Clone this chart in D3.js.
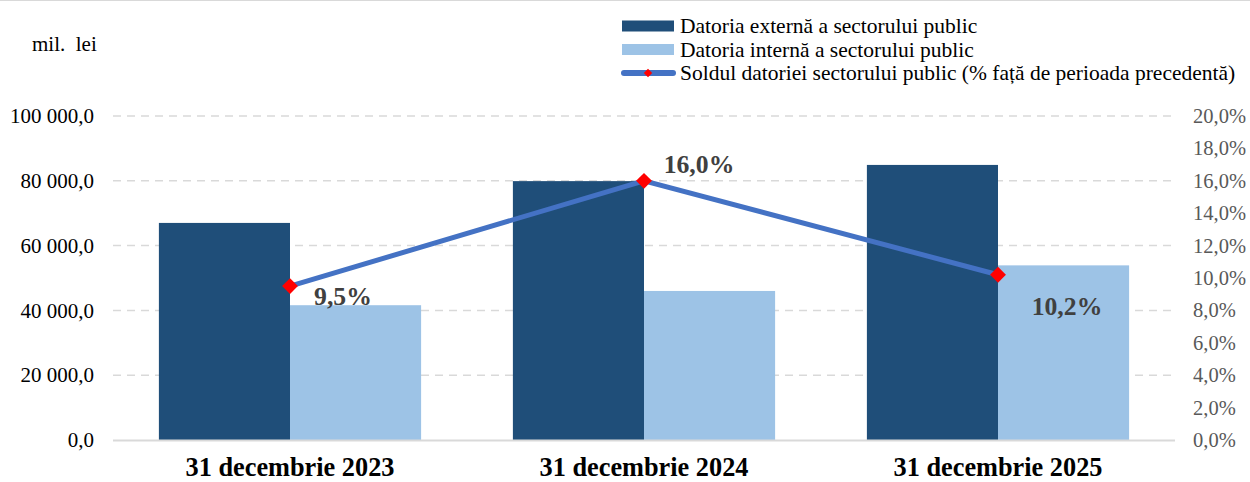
<!DOCTYPE html>
<html>
<head>
<meta charset="utf-8">
<script src="https://d3js.org/d3.v7.min.js"></script>
<style>
  body { margin: 0; background: #fff; }
  text { font-family: "Liberation Serif", "Times New Roman", serif; }
</style>
</head>
<body>
<script>
const categories = ['31 decembrie 2023', '31 decembrie 2024', '31 decembrie 2025'];
const externalDebt = [67000, 79900, 84900];
const internalDebt = [41600, 46000, 53900];
const growthPct = [9.5, 16.0, 10.2];
const leftTicks = [0, 20000, 40000, 60000, 80000, 100000];
const rightTicks = [0, 2, 4, 6, 8, 10, 12, 14, 16, 18, 20];
const seriesNames = [
  'Datoria externă a sectorului public',
  'Datoria internă a sectorului public',
  'Soldul datoriei sectorului public (% față de perioada precedentă)'
];

const width = 1250, height = 482;
const margin = { top: 116, right: 75, bottom: 42, left: 113 };
const darkBlue = '#1f4e79', lightBlue = '#9dc3e6', lineBlue = '#4472c4';

const svg = d3.select('body').append('svg')
  .attr('width', width)
  .attr('height', height);

svg.append('line')
  .attr('x1', 0).attr('x2', width).attr('y1', 0.5).attr('y2', 0.5)
  .attr('stroke', '#d9d9d9');

const x = d3.scaleBand().domain(categories).range([margin.left, width - margin.right]);
const sub = d3.scaleBand().domain(['ext', 'int']).range([0, x.bandwidth()]).paddingOuter(0.35);
const y = d3.scaleLinear().domain([0, 100000]).range([height - margin.bottom, margin.top]);
const y2 = d3.scaleLinear().domain([0, 20]).range([height - margin.bottom, margin.top]);

const fmtNum = v => d3.format(',.1f')(v).replace(/,/g, ' ').replace('.', ',');
const fmtPct = v => d3.format('.1f')(v).replace('.', ',') + '%';

// grid
svg.append('g').selectAll('line')
  .data(leftTicks.filter(d => d > 0))
  .join('line')
  .attr('x1', margin.left).attr('x2', width - margin.right)
  .attr('y1', d => y(d)).attr('y2', d => y(d))
  .attr('stroke', '#d9d9d9').attr('stroke-width', 1.5)
  .attr('stroke-dasharray', '8,6');

// left axis
const yAxis = d3.axisLeft(y).tickValues(leftTicks).tickFormat(fmtNum).tickSize(0).tickPadding(19);
const gy = svg.append('g').attr('transform', `translate(${margin.left},0)`).call(yAxis);
gy.select('.domain').remove();
gy.selectAll('text').attr('font-size', 21).attr('fill', '#000');

// right axis
const y2Axis = d3.axisRight(y2).tickValues(rightTicks).tickFormat(fmtPct).tickSize(0).tickPadding(18);
const gy2 = svg.append('g').attr('transform', `translate(${width - margin.right},0)`).call(y2Axis);
gy2.select('.domain').remove();
gy2.selectAll('text').attr('font-size', 20.5).attr('fill', '#595959');

svg.append('text')
  .attr('x', 32).attr('y', 51)
  .attr('font-size', 21)
  .style('white-space', 'pre')
  .text('mil.  lei');

// bars
const groups = svg.append('g').selectAll('g')
  .data(categories)
  .join('g')
  .attr('transform', d => `translate(${x(d)},0)`);

groups.append('rect')
  .attr('x', sub('ext')).attr('width', sub.bandwidth())
  .attr('y', (d, i) => y(externalDebt[i]))
  .attr('height', (d, i) => y(0) - y(externalDebt[i]))
  .attr('fill', darkBlue);

groups.append('rect')
  .attr('x', sub('int')).attr('width', sub.bandwidth())
  .attr('y', (d, i) => y(internalDebt[i]))
  .attr('height', (d, i) => y(0) - y(internalDebt[i]))
  .attr('fill', lightBlue);

// x axis
svg.append('line')
  .attr('x1', margin.left).attr('x2', width - margin.right)
  .attr('y1', y(0) + 0.5).attr('y2', y(0) + 0.5)
  .attr('stroke', '#d9d9d9').attr('stroke-width', 2);

svg.append('g').selectAll('text')
  .data(categories)
  .join('text')
  .attr('x', d => x(d) + x.bandwidth() / 2)
  .attr('y', 475.5)
  .attr('text-anchor', 'middle')
  .attr('font-size', 26.3)
  .attr('font-weight', 'bold')
  .text(d => d);

// line
const cx = d => x(d) + x.bandwidth() / 2;
const line = d3.line().x((d, i) => cx(categories[i])).y(d => y2(d));
svg.append('path')
  .datum(growthPct)
  .attr('d', line)
  .attr('fill', 'none')
  .attr('stroke', lineBlue)
  .attr('stroke-width', 5);

const diamond = d3.symbol().type(d3.symbolDiamond2).size(160);
svg.append('g').selectAll('path')
  .data(growthPct)
  .join('path')
  .attr('transform', (d, i) => `translate(${cx(categories[i])},${y2(d)})`)
  .attr('d', diamond)
  .attr('fill', '#ff0000');

// data labels (Excel-style manual positions)
const labelOffsets = [[53, 19], [55, -8], [69, 40]];
svg.append('g').selectAll('text')
  .data(growthPct)
  .join('text')
  .attr('x', (d, i) => cx(categories[i]) + labelOffsets[i][0])
  .attr('y', (d, i) => y2(d) + labelOffsets[i][1])
  .attr('text-anchor', 'middle')
  .attr('font-size', 25.7)
  .attr('font-weight', 'bold')
  .attr('fill', '#404040')
  .text(fmtPct);

// legend
const legend = svg.append('g').attr('transform', 'translate(622,0)');
const rowY = [26, 49.5, 73];
const leg = legend.selectAll('g').data(seriesNames).join('g')
  .attr('transform', (d, i) => `translate(0,${rowY[i]})`);
leg.filter((d, i) => i < 2).append('rect')
  .attr('x', 0).attr('y', -5.5).attr('width', 52).attr('height', 11)
  .attr('fill', (d, i) => i === 0 ? darkBlue : lightBlue);
leg.filter((d, i) => i === 2).append('line')
  .attr('x1', 2).attr('x2', 51).attr('y1', 0).attr('y2', 0)
  .attr('stroke', lineBlue).attr('stroke-width', 6).attr('stroke-linecap', 'round');
leg.filter((d, i) => i === 2).append('path')
  .attr('transform', 'translate(26,0)')
  .attr('d', d3.symbol().type(d3.symbolDiamond2).size(45))
  .attr('fill', '#ff0000');
leg.append('text')
  .attr('x', 58).attr('y', 7)
  .attr('font-size', 21.5)
  .text(d => d);
</script>
</body>
</html>
